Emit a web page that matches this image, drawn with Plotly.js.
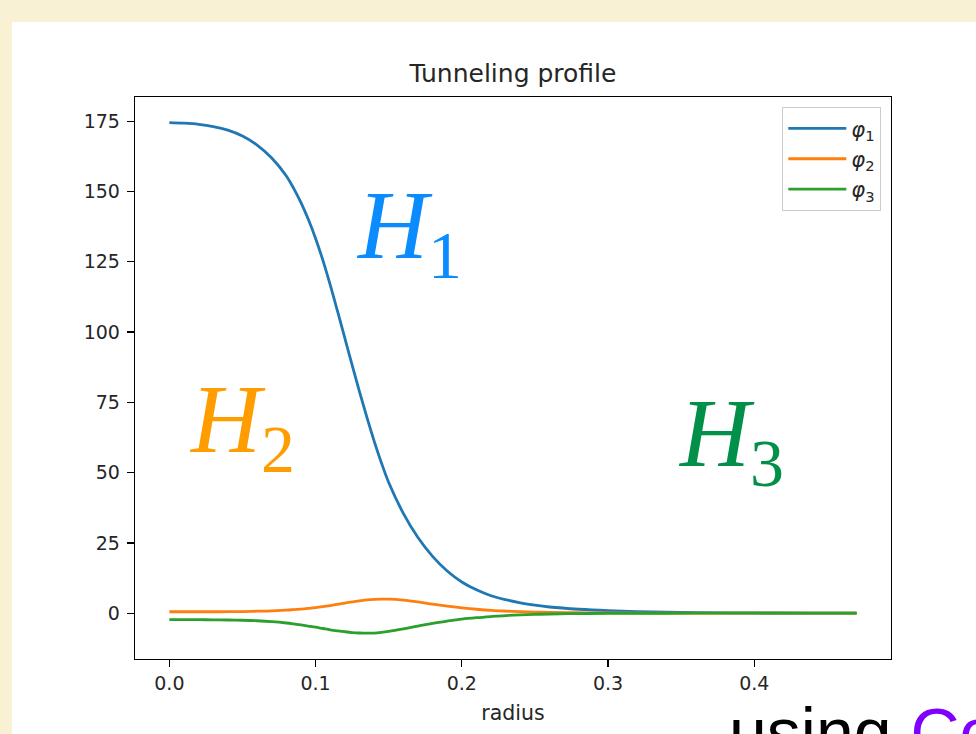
<!DOCTYPE html>
<html>
<head>
<meta charset="utf-8">
<script src="https://cdn.plot.ly/plotly-3.0.1.min.js"></script>
<style>
  html, body { margin:0; padding:0; width:976px; height:734px; overflow:hidden; background:#f8f1d3; }
  #panel { position:absolute; left:12px; top:22px; width:964px; height:712px; background:#ffffff; }
  #chart { position:absolute; left:0; top:0; width:976px; height:734px; }
</style>
</head>
<body>
<div id="panel"></div>
<div id="chart"></div>
<script>
// radius samples
const radius = [0, 0.01, 0.02, 0.03, 0.04, 0.05, 0.06, 0.07, 0.08, 0.085, 0.09, 0.095, 0.10, 0.105, 0.11, 0.115, 0.12, 0.125, 0.13, 0.135, 0.14, 0.145, 0.15, 0.16, 0.17, 0.18, 0.19, 0.20, 0.21, 0.22, 0.23, 0.24, 0.25, 0.26, 0.28, 0.30, 0.33, 0.36, 0.40, 0.44, 0.47];
// field profiles
const phi1 = [174.5, 174.3, 173.9, 173.1, 171.8, 169.7, 166.5, 161.9, 155.5, 151.1, 146.0, 140.1, 133.3, 125.5, 116.8, 107.4, 97.8, 88.2, 78.8, 69.8, 61.3, 53.5, 46.5, 35.5, 26.9, 20.2, 15.0, 11.1, 8.3, 6.2, 4.8, 3.7, 2.85, 2.2, 1.4, 0.9, 0.45, 0.2, 0.08, 0.03, 0.01];
const phi2 = [0.5, 0.5, 0.5, 0.5, 0.52, 0.58, 0.7, 0.85, 1.1, 1.27, 1.45, 1.68, 1.95, 2.3, 2.7, 3.15, 3.6, 4.0, 4.4, 4.7, 4.9, 5.0, 5.0, 4.65, 4.0, 3.2, 2.5, 1.9, 1.4, 1.0, 0.75, 0.55, 0.4, 0.3, 0.15, 0.08, 0.03, 0.01, 0, 0, 0];
const phi3 = [-2.3, -2.3, -2.32, -2.36, -2.42, -2.52, -2.7, -3.0, -3.5, -3.83, -4.2, -4.6, -5.0, -5.45, -5.9, -6.27, -6.6, -6.88, -7.05, -7.12, -7.08, -6.85, -6.5, -5.6, -4.6, -3.6, -2.8, -2.1, -1.6, -1.2, -0.85, -0.6, -0.42, -0.3, -0.15, -0.08, -0.03, -0.01, 0, 0, 0];

const seriesNames = ['<i>φ</i><sub>1</sub>', '<i>φ</i><sub>2</sub>', '<i>φ</i><sub>3</sub>'];
const seriesColors = ['#1f77b4', '#ff7f0e', '#2ca02c'];

const xTicks = [0, 0.1, 0.2, 0.3, 0.4];
const xTickText = ['0.0', '0.1', '0.2', '0.3', '0.4'];
const yTicks = [0, 25, 50, 75, 100, 125, 150, 175];
const yTickText = ['0', '25', '50', '75', '100', '125', '150', '175'];

const regionLabels = ['<i>H</i><sub>1</sub>', '<i>H</i><sub>2</sub>', '<i>H</i><sub>3</sub>'];
const regionColors = ['#0a8cff', '#ff9c00', '#00904a'];
const regionX = [0.164, 0.050, 0.384];
const regionY = [135.5, 66.5, 61.5];

const series = [phi1, phi2, phi3];
const traces = series.map((ys, i) => ({
  x: radius, y: ys, type: 'scatter', mode: 'lines',
  name: seriesNames[i],
  line: {color: seriesColors[i], width: 2.8, shape: 'spline', smoothing: 1}
}));

const tickFont = {family: 'DejaVu Sans', size: 19, color: '#262626'};

const annotations = regionLabels.map((t, i) => ({
  x: regionX[i], y: regionY[i], xref: 'x', yref: 'y',
  text: t, showarrow: false,
  font: {family: 'Liberation Serif', size: 97, color: regionColors[i]},
  xanchor: 'center', yanchor: 'middle'
}));
annotations.push({
  xref: 'paper', yref: 'paper', x: (727 - 135) / 756, y: (659 - 772) / 562,
  xanchor: 'left', yanchor: 'bottom', showarrow: false,
  text: 'using <span style="color:#8000ff">Co</span>',
  font: {family: 'Liberation Sans', size: 68, color: '#000000'}
});

const layout = {
  width: 976, height: 734,
  margin: {l: 135, r: 85, t: 97, b: 75},
  paper_bgcolor: 'rgba(0,0,0,0)',
  plot_bgcolor: '#ffffff',
  showlegend: true,
  title: {text: 'Tunneling profile', font: {family: 'DejaVu Sans', size: 25, color: '#262626'},
          x: 0.5, xref: 'paper', xanchor: 'center', y: 1 - 73/734, yanchor: 'middle'},
  xaxis: {
    range: [-0.0235, 0.4935], tickvals: xTicks, ticktext: xTickText,
    showgrid: false, zeroline: false, showline: true, linecolor: '#000', linewidth: 1.3, mirror: true,
    ticks: 'outside', ticklen: 7, tickwidth: 1.3, tickcolor: '#000',
    tickfont: tickFont,
    title: {text: 'radius', font: {family: 'DejaVu Sans', size: 20.5, color: '#262626'}, standoff: 12}
  },
  yaxis: {
    range: [-16.3, 183.6], tickvals: yTicks, ticktext: yTickText,
    showgrid: false, zeroline: false, showline: true, linecolor: '#000', linewidth: 1.3, mirror: true,
    ticks: 'outside', ticklen: 7, tickwidth: 1.3, tickcolor: '#000',
    tickfont: tickFont, ticklabelstandoff: 3
  },
  legend: {
    x: (881 - 135) / 756, y: (659 - 107) / 562, xanchor: 'right', yanchor: 'top',
    bgcolor: 'rgba(255,255,255,0.9)', bordercolor: '#cccccc', borderwidth: 1.3,
    font: {family: 'DejaVu Sans', size: 21, color: '#262626'},
    tracegroupgap: 0, itemwidth: 58
  },
  annotations: annotations
};

Plotly.newPlot('chart', traces, layout, {displayModeBar: false, staticPlot: true});
</script>
</body>
</html>
